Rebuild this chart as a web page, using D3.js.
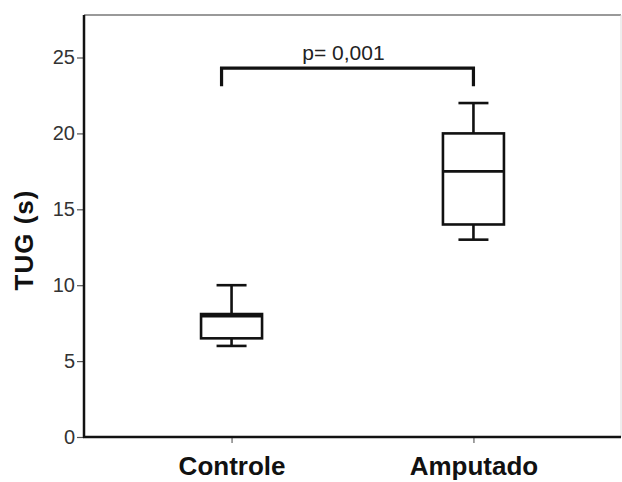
<!DOCTYPE html>
<html>
<head>
<meta charset="utf-8">
<script src="https://cdn.jsdelivr.net/npm/d3@7"></script>
<style>
  body { margin: 0; background: #fff; }
  svg { display: block; font-family: Arial, "Liberation Sans", sans-serif; }
</style>
</head>
<body>
<svg id="chart" width="622" height="482"></svg>
<script>
// data
const groups = ["Controle", "Amputado"];
const whiskerLow = [6, 13];
const quartile1 = [6.5, 14];
const medians = [7.95, 17.5];
const quartile3 = [8.1, 20];
const whiskerHigh = [10, 22];
const yTicks = [0, 5, 10, 15, 20, 25];
const bracketBase = 23.1;
const bracketTop = 24.3;
const pLabel = "p= 0,001";

const svg = d3.select("#chart");
const margin = { top: 15, right: 1, bottom: 45, left: 84 };
const width = 622 - margin.left - margin.right;
const height = 482 - margin.top - margin.bottom;

const x = d3.scalePoint()
    .domain(groups)
    .range([0, width])
    .padding(0.61);

const y = d3.scaleLinear()
    .domain([0, 27.8])
    .range([height, 0]);

const g = svg.append("g")
    .attr("transform", `translate(${margin.left},${margin.top})`);

// frame: top and right in grey
g.append("line")
    .attr("x1", 0).attr("x2", width)
    .attr("y1", 0).attr("y2", 0)
    .attr("stroke", "#999").attr("stroke-width", 2);
g.append("line")
    .attr("x1", width).attr("x2", width)
    .attr("y1", 0).attr("y2", height)
    .attr("stroke", "#ddd").attr("stroke-width", 1);

// y axis
const yAxis = g.append("g")
    .call(d3.axisLeft(y).tickValues(yTicks).tickSize(7).tickPadding(2).tickSizeOuter(0));
yAxis.select(".domain").remove();
yAxis.selectAll(".tick line").attr("stroke", "#555").attr("stroke-width", 1.2);
yAxis.selectAll(".tick text")
    .attr("fill", "#333")
    .attr("font-size", 20)
    .attr("font-family", "Arial, 'Liberation Sans', sans-serif");

// x axis
const xAxis = g.append("g")
    .attr("transform", `translate(0,${height})`)
    .call(d3.axisBottom(x).tickSize(6).tickPadding(14).tickSizeOuter(0));
xAxis.select(".domain").remove();
xAxis.selectAll(".tick line").attr("stroke", "#666").attr("stroke-width", 1.2);
xAxis.selectAll(".tick text")
    .attr("fill", "#111")
    .attr("font-size", 26)
    .attr("font-weight", "bold")
    .attr("font-family", "Arial, 'Liberation Sans', sans-serif");

// axis lines
g.append("line")
    .attr("x1", 0).attr("x2", 0)
    .attr("y1", 0).attr("y2", height + 1)
    .attr("stroke", "#111").attr("stroke-width", 2.5);
g.append("line")
    .attr("x1", -1).attr("x2", width)
    .attr("y1", height).attr("y2", height)
    .attr("stroke", "#111").attr("stroke-width", 2.5);

// y label
svg.append("text")
    .attr("transform", "translate(33,240) rotate(-90)")
    .attr("text-anchor", "middle")
    .attr("font-size", 26)
    .attr("font-weight", "bold")
    .attr("letter-spacing", 1)
    .attr("fill", "#111")
    .text("TUG (s)");

// boxes
const boxW = 61;
const capW = 30;
const stroke = "#111";
const sw = 2.6;

groups.forEach((name, i) => {
    const cx = x(name);
    const box = g.append("g");
    // whiskers
    box.append("line")
        .attr("x1", cx).attr("x2", cx)
        .attr("y1", y(whiskerHigh[i])).attr("y2", y(quartile3[i]))
        .attr("stroke", stroke).attr("stroke-width", sw);
    box.append("line")
        .attr("x1", cx).attr("x2", cx)
        .attr("y1", y(quartile1[i])).attr("y2", y(whiskerLow[i]))
        .attr("stroke", stroke).attr("stroke-width", sw);
    [whiskerHigh[i], whiskerLow[i]].forEach(v => {
        box.append("line")
            .attr("x1", cx - capW / 2).attr("x2", cx + capW / 2)
            .attr("y1", y(v)).attr("y2", y(v))
            .attr("stroke", stroke).attr("stroke-width", sw);
    });
    box.append("rect")
        .attr("x", cx - boxW / 2)
        .attr("y", y(quartile3[i]))
        .attr("width", boxW)
        .attr("height", y(quartile1[i]) - y(quartile3[i]))
        .attr("fill", "#fff")
        .attr("stroke", stroke).attr("stroke-width", sw);
    box.append("line")
        .attr("x1", cx - boxW / 2).attr("x2", cx + boxW / 2)
        .attr("y1", y(medians[i])).attr("y2", y(medians[i]))
        .attr("stroke", stroke).attr("stroke-width", sw);
});

// significance bracket
const bx1 = x(groups[0]) - 10;
const bx2 = x(groups[1]);
g.append("path")
    .attr("d", `M${bx1},${y(bracketBase)} V${y(bracketTop)} H${bx2} V${y(bracketBase)}`)
    .attr("fill", "none")
    .attr("stroke", "#111")
    .attr("stroke-width", 3.2);

g.append("text")
    .attr("x", (bx1 + bx2) / 2 - 4)
    .attr("y", y(bracketTop) - 8)
    .attr("text-anchor", "middle")
    .attr("font-size", 21)
    .attr("fill", "#222")
    .text(pLabel);
</script>
</body>
</html>
